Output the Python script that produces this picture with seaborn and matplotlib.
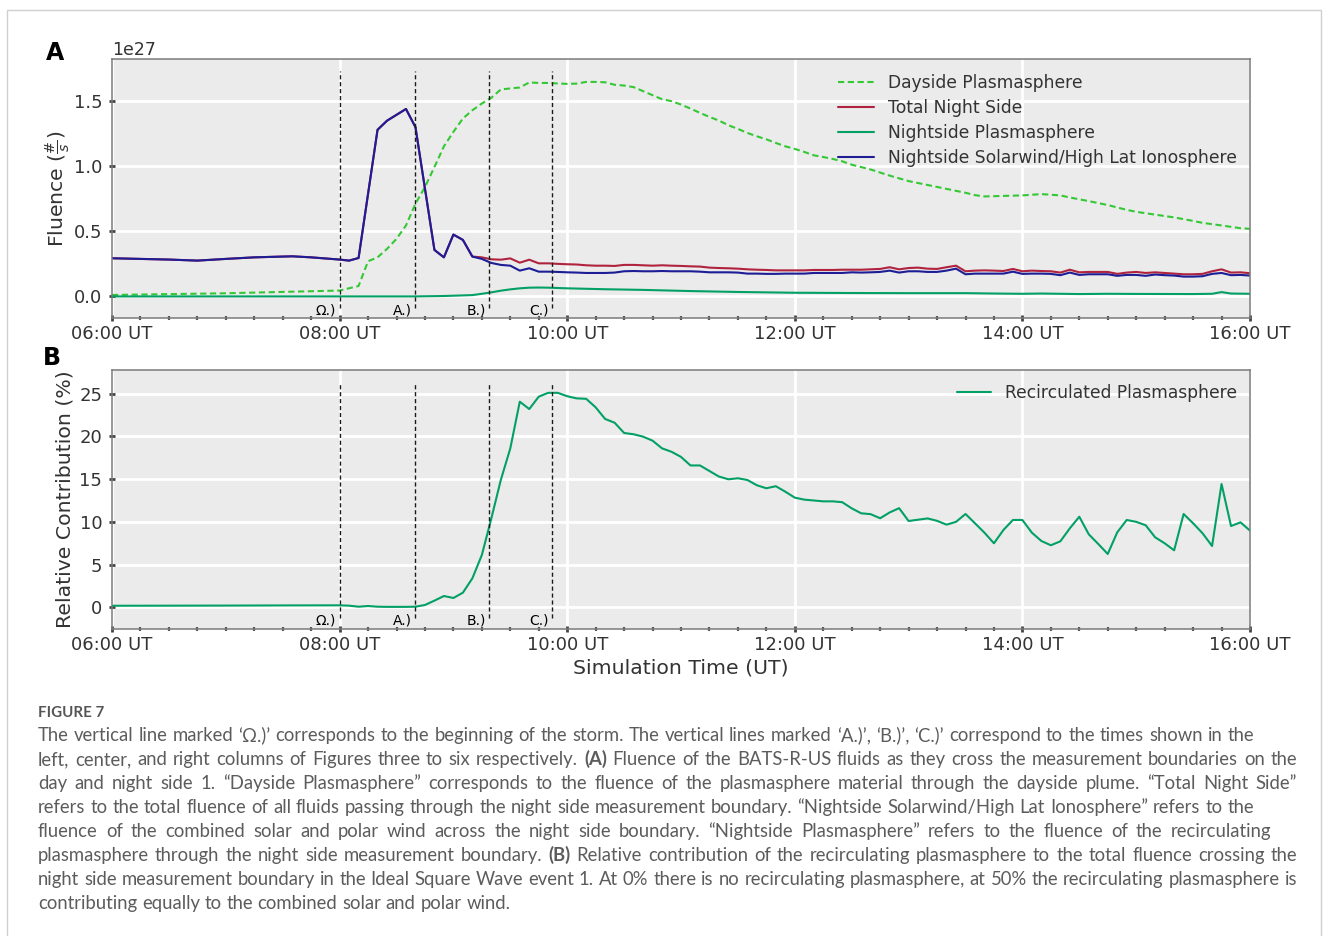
import logging
import numpy as np
import matplotlib
matplotlib.use("Agg")
import matplotlib.pyplot as plt
import matplotlib.ticker as mticker
from matplotlib.patches import Rectangle
import seaborn as sns

logging.getLogger("matplotlib.font_manager").setLevel(logging.ERROR)

# ---------------------------------------------------------------- data
SCALE = 1e27  # fluence values below are in units of 1e27 #/s

def hrs(ts):
    return np.array([int(t[:2]) + int(t[3:]) / 60.0 for t in ts])

def every5(start, end):
    h0, m0 = int(start[:2]), int(start[3:])
    h1, m1 = int(end[:2]), int(end[3:])
    return [f"{m // 60:02d}:{m % 60:02d}" for m in range(h0 * 60 + m0, h1 * 60 + m1 + 1, 5)]

# Dayside Plasmasphere
day_t = ["06:00", "07:00", "08:00", "08:10", "08:15", "08:20", "08:25", "08:30", "08:35",
         "08:40", "08:45", "08:50", "08:55", "09:00", "09:05", "09:10", "09:15", "09:20",
         "09:25", "09:30", "09:35", "09:40", "09:45", "09:50", "09:55", "10:00", "10:05",
         "10:10", "10:15", "10:20", "10:25", "10:30", "10:35", "10:40", "10:45", "10:50",
         "10:55", "11:00", "11:05", "11:10", "11:15", "11:20", "11:25", "11:30", "11:35",
         "11:40", "11:45", "11:50", "11:55", "12:00", "12:05", "12:10", "12:15", "12:20",
         "12:25", "12:30", "12:40", "12:50", "13:00", "13:10", "13:20", "13:30", "13:35",
         "13:40", "13:50", "14:00", "14:10", "14:20", "14:25", "14:35", "14:45", "14:55",
         "15:00", "15:10", "15:20", "15:30", "15:35", "15:45", "15:55", "16:00"]
day_v = [0.011, 0.024, 0.045, 0.080, 0.270, 0.300, 0.365, 0.442, 0.545,
         0.712, 0.840, 0.994, 1.153, 1.264, 1.367, 1.430, 1.482, 1.526,
         1.590, 1.598, 1.605, 1.644, 1.640, 1.640, 1.636, 1.633, 1.635,
         1.648, 1.648, 1.645, 1.626, 1.620, 1.608, 1.577, 1.546, 1.515,
         1.500, 1.474, 1.443, 1.410, 1.379, 1.351, 1.315, 1.287, 1.256,
         1.230, 1.207, 1.179, 1.153, 1.133, 1.110, 1.084, 1.071, 1.056,
         1.038, 1.012, 0.975, 0.928, 0.886, 0.856, 0.826, 0.796, 0.778,
         0.768, 0.772, 0.776, 0.786, 0.776, 0.760, 0.732, 0.702, 0.665,
         0.650, 0.628, 0.607, 0.580, 0.565, 0.545, 0.524, 0.519]

# early part shared by night-side curves (they overlap before 09:15)
early_t = ["06:00", "06:30", "06:45", "07:00", "07:15", "07:35", "07:45", "08:00", "08:05",
           "08:10", "08:20", "08:25", "08:35", "08:40", "08:50", "08:55", "09:00", "09:05",
           "09:10"]
early_v = [0.293, 0.283, 0.275, 0.288, 0.300, 0.308, 0.300, 0.283, 0.275,
           0.295, 1.280, 1.350, 1.440, 1.300, 0.357, 0.300, 0.475, 0.434,
           0.306]

# Total Night Side
tot_t = early_t + every5("09:15", "16:00")
tot_v = early_v + [
    0.300, 0.285, 0.282, 0.292, 0.259, 0.282, 0.254, 0.254, 0.250,
    0.247, 0.245, 0.239, 0.236, 0.236, 0.234, 0.242, 0.242, 0.239, 0.236, 0.239, 0.236,
    0.234, 0.231, 0.229, 0.221, 0.218, 0.216, 0.213, 0.208, 0.205, 0.203, 0.200, 0.200,
    0.200, 0.200, 0.203, 0.203, 0.203, 0.205, 0.205, 0.205, 0.208, 0.211, 0.224, 0.208,
    0.218, 0.221, 0.213, 0.211, 0.224, 0.236, 0.193, 0.198, 0.200, 0.198, 0.195, 0.211,
    0.193, 0.198, 0.195, 0.193, 0.183, 0.205, 0.185, 0.188, 0.188, 0.188, 0.173, 0.183,
    0.188, 0.180, 0.185, 0.180, 0.175, 0.170, 0.170, 0.173, 0.193, 0.208, 0.183, 0.185,
    0.178]

# Nightside Plasmasphere
nps_t = ["06:00", "08:40", "08:55", "09:10", "09:15", "09:20", "09:25", "09:30", "09:35",
         "09:40", "09:45", "09:50", "10:00", "10:20", "10:40", "11:05", "11:30", "12:00",
         "12:30", "13:00", "13:30", "13:45", "14:00", "14:10", "14:30", "14:45", "15:00",
         "15:30", "15:40", "15:45", "15:50", "16:00"]
nps_v = [0.000, 0.000, 0.003, 0.010, 0.020, 0.031, 0.044, 0.054, 0.062,
         0.067, 0.068, 0.067, 0.062, 0.055, 0.050, 0.041, 0.034, 0.028,
         0.026, 0.025, 0.025, 0.022, 0.020, 0.022, 0.018, 0.020, 0.019,
         0.018, 0.020, 0.033, 0.022, 0.020]

# Nightside Solarwind/High Lat Ionosphere
sw_t = early_t + ["09:15", "09:20", "09:25", "09:30", "09:35", "09:40", "09:45"] + every5("09:50", "16:00")
sw_v = early_v + [0.288, 0.257, 0.242, 0.236, 0.198, 0.216, 0.190] + [
    0.190, 0.188,
    0.185, 0.183, 0.180, 0.180, 0.180, 0.183, 0.193, 0.195, 0.193, 0.193, 0.195, 0.193,
    0.193, 0.193, 0.190, 0.185, 0.185, 0.185, 0.183, 0.175, 0.175, 0.173, 0.173, 0.175,
    0.175, 0.175, 0.180, 0.180, 0.180, 0.180, 0.185, 0.183, 0.185, 0.188, 0.198, 0.183,
    0.193, 0.193, 0.188, 0.188, 0.198, 0.213, 0.170, 0.175, 0.175, 0.175, 0.175, 0.190,
    0.173, 0.175, 0.175, 0.173, 0.163, 0.183, 0.165, 0.170, 0.170, 0.170, 0.158, 0.165,
    0.165, 0.158, 0.168, 0.163, 0.160, 0.152, 0.152, 0.155, 0.173, 0.180, 0.163, 0.165,
    0.160]

# Recirculated Plasmasphere (relative contribution, %)
rec_t = ["06:00", "07:00", "07:30"] + every5("08:00", "16:00")
rec_v = [0.18, 0.20, 0.22] + [
    0.23, 0.19, 0.07, 0.15, 0.07, 0.05, 0.05, 0.05, 0.07, 0.27, 0.78, 1.32,
    1.09, 1.71, 3.39, 6.12, 10.4, 14.9, 18.6, 24.06, 23.2, 24.65, 25.1, 25.1,
    24.7, 24.45, 24.4, 23.4, 22.04, 21.6, 20.4, 20.25, 19.97, 19.5, 18.6, 18.2,
    17.6, 16.6, 16.6, 15.95, 15.3, 14.98, 15.1, 14.9, 14.28, 13.93, 14.17, 13.53,
    12.83, 12.6, 12.5, 12.4, 12.4, 12.3, 11.58, 11.0, 10.9, 10.42, 11.1, 11.6,
    10.1, 10.25, 10.4, 10.12, 9.67, 10.0, 10.92, 9.83, 8.73, 7.49, 9.05, 10.22,
    10.22, 8.73, 7.76, 7.26, 7.72, 9.24, 10.6, 8.54, 7.41, 6.24, 8.77, 10.22,
    10.0, 9.6, 8.19, 7.49, 6.67, 10.92, 9.83, 8.66, 7.17, 14.43, 9.51, 9.94,
    8.97]

event_t = ["08:00", "08:40", "09:19", "09:52"]
event_labels = ["Ω.)", "A.)", "B.)", "C.)"]

caption_title = "FIGURE 7"
caption_lines = [
    "The vertical line marked ‘Ω.)’ corresponds to the beginning of the storm. The vertical lines marked ‘A.)’, ‘B.)’, ‘C.)’ correspond to the times shown in the",
    "left, center, and right columns of Figures three to six respectively. **(A)** Fluence of the BATS-R-US fluids as they cross the measurement boundaries on the",
    "day and night side 1. “Dayside Plasmasphere” corresponds to the fluence of the plasmasphere material through the dayside plume. “Total Night Side”",
    "refers to the total fluence of all fluids passing through the night side measurement boundary. “Nightside Solarwind/High Lat Ionosphere” refers to the",
    "fluence of the combined solar and polar wind across the night side boundary. “Nightside Plasmasphere” refers to the fluence of the recirculating",
    "plasmasphere through the night side measurement boundary. **(B)** Relative contribution of the recirculating plasmasphere to the total fluence crossing the",
    "night side measurement boundary in the Ideal Square Wave event 1. At 0% there is no recirculating plasmasphere, at 50% the recirculating plasmasphere is",
    "contributing equally to the combined solar and polar wind.",
]
caption_right = [1254, 1297, 1297, 1254, 1271, 1297, 1297, None]

# ---------------------------------------------------------------- style
TXT = "#333333"
sns.set_theme(style="darkgrid", rc={
    "axes.facecolor": "#EBEBEB",
    "axes.edgecolor": "#7a7a7a",
    "axes.linewidth": 1.1,
    "grid.color": "white",
    "grid.linewidth": 2.0,
    "xtick.bottom": True,
    "ytick.left": True,
    "xtick.color": TXT,
    "ytick.color": TXT,
    "axes.labelcolor": TXT,
    "text.color": TXT,
})
plt.rcParams["font.family"] = ["DejaVu Sans"]

W, H = 1330, 936
fig = plt.figure(figsize=(W / 100, H / 100), dpi=100)
fig.patch.set_facecolor("white")

def px_axes(left, top, right, bottom):
    return fig.add_axes([left / W, 1 - bottom / H, (right - left) / W, (bottom - top) / H])

axA = px_axes(112, 59, 1250, 318)
axB = px_axes(112, 370, 1250, 629)

C_DAY = "#35C835"
C_TOT = "#B0233F"
C_NPS = "#03A066"
C_SW = "#1D1D96"

sns.lineplot(x=hrs(day_t), y=np.array(day_v) * SCALE, ax=axA, color=C_DAY, lw=1.5,
             label="Dayside Plasmasphere", estimator=None, sort=False)
axA.lines[-1].set_dashes((3, 1.7))
sns.lineplot(x=hrs(tot_t), y=np.array(tot_v) * SCALE, ax=axA, color=C_TOT, lw=1.5,
             label="Total Night Side", estimator=None, sort=False)
sns.lineplot(x=hrs(nps_t), y=np.array(nps_v) * SCALE, ax=axA, color=C_NPS, lw=1.5,
             label="Nightside Plasmasphere", estimator=None, sort=False)
sns.lineplot(x=hrs(sw_t), y=np.array(sw_v) * SCALE, ax=axA, color=C_SW, lw=1.5,
             label="Nightside Solarwind/High Lat Ionosphere", estimator=None, sort=False)

sns.lineplot(x=hrs(rec_t), y=np.array(rec_v), ax=axB, color=C_NPS, lw=1.5,
             label="Recirculated Plasmasphere", estimator=None, sort=False)

ev = hrs(event_t)
for ax, (ylo, yhi), lab_y, lim in [
        (axA, (-0.087 * SCALE, 1.73 * SCALE), -0.11 * SCALE, (-0.166 * SCALE, 1.824 * SCALE)),
        (axB, (-1.29, 26.3), -1.5, (-2.54, 27.77))]:
    ax.vlines(ev, ylo, yhi, colors="#1a1a1a", linestyles=(0, (3, 2)), lw=1.0, zorder=5)
    for t, s in zip(ev, event_labels):
        ax.text(t - 0.03, lab_y, s, ha="right", va="center", fontsize=10, color="black", zorder=6)
    ax.set_xlim(6, 16)
    ax.set_ylim(*lim)
    ax.xaxis.set_major_locator(mticker.MultipleLocator(2))
    ax.xaxis.set_minor_locator(mticker.MultipleLocator(0.25))
    ax.xaxis.set_major_formatter(mticker.FuncFormatter(lambda v, p: f"{int(round(v)):02d}:00 UT"))
    ax.grid(True, which="major", color="white", lw=2.0)
    ax.grid(False, which="minor")
    ax.tick_params(axis="both", which="major", direction="inout", length=4, width=2,
                   color="#444444", labelsize=13)
    ax.tick_params(axis="x", which="major", pad=3)
    ax.tick_params(axis="y", which="major", pad=5)
    ax.tick_params(axis="x", which="minor", direction="inout", length=3, width=1.6,
                   color="#555555", bottom=True)
    for sp in ax.spines.values():
        sp.set_visible(True)
        sp.set_color("#7a7a7a")
        sp.set_linewidth(1.1)
    ax.set_xlabel("")

axA.yaxis.set_major_locator(mticker.MultipleLocator(0.5 * SCALE))
axA.yaxis.get_offset_text().set_fontsize(12.5)
axA.yaxis.get_offset_text().set_color(TXT)
axA.set_ylabel(r"Fluence ($\frac{\#}{s}$)", fontsize=14.7, labelpad=1.5)
axB.yaxis.set_major_locator(mticker.MultipleLocator(5))
axB.set_ylabel("Relative Contribution (%)", fontsize=14.7, labelpad=3.5)
axB.set_xlabel("Simulation Time (UT)", fontsize=14.7, labelpad=3)

axA.legend(loc="upper left", bbox_to_anchor=(0.638, 0.942), frameon=False, fontsize=12.3,
           handlelength=2.1, handletextpad=0.8, labelspacing=0.41, borderaxespad=0, borderpad=0)
axB.legend(loc="upper left", bbox_to_anchor=(0.7425, 0.946), frameon=False, fontsize=12.3,
           handlelength=2.0, handletextpad=0.8, borderaxespad=0, borderpad=0)

fig.text(55 / W, 1 - 53 / H, "A", fontsize=17, fontweight="bold", color="black", ha="center", va="center")
fig.text(52 / W, 1 - 358 / H, "B", fontsize=17, fontweight="bold", color="black", ha="center", va="center")

# ---------------------------------------------------------------- border + caption
fig.patches.append(Rectangle((7 / W, 1 - 945 / H), 1314 / W, 935 / H, transform=fig.transFigure,
                             fill=False, edgecolor="#cfcfcf", lw=1.0))

CAP_FONT = ["Lato", "Open Sans", "DejaVu Sans"]
CAP_COL = "#5c5c5c"
renderer = fig.canvas.get_renderer()

def width_of(s, size, weight="normal"):
    t = fig.text(0, 0, s, fontsize=size, fontweight=weight, family=CAP_FONT)
    w = t.get_window_extent(renderer).width
    t.remove()
    return w

def split_words(line):
    return [(w.replace("**", ""), "bold" if w.startswith("**") else "normal") for w in line.split(" ")]

# caption size: justified lines should need only a little extra word spacing
ref = 11.0
ref_space = width_of("a a", ref) - width_of("aa", ref)
ratios = []
for line, right in zip(caption_lines, caption_right):
    if right is None:
        continue
    items = split_words(line)
    nat = sum(width_of(s, ref, wt) for s, wt in items) + ref_space * (len(items) - 1)
    ratios.append((right - 38) / nat)
cap_size = ref * float(np.median(ratios)) * 0.985
title_size = ref * (104 - 38) / width_of(caption_title, ref, "bold")

fig.text(38 / W, 1 - 717 / H, caption_title, fontsize=title_size, fontweight="bold",
         family=CAP_FONT, color="#555555", ha="left", va="baseline")

space_w = ref_space * cap_size / ref
for i, (line, right) in enumerate(zip(caption_lines, caption_right)):
    y = 1 - (741 + 24 * i) / H
    items = split_words(line)
    size = cap_size
    widths = [width_of(s, size, wt) for s, wt in items]
    if right is not None:
        gap = (right - 38 - sum(widths)) / (len(items) - 1)
        if gap < 0.7 * space_w:
            factor = (right - 38 - 0.7 * space_w * (len(items) - 1)) / sum(widths)
            size = size * factor
            widths = [w * factor for w in widths]
            gap = 0.7 * space_w
    else:
        gap = space_w
    x = 38.0
    for (s, wt), w in zip(items, widths):
        fig.text(x / W, y, s, fontsize=size, fontweight=wt, family=CAP_FONT, color=CAP_COL,
                 ha="left", va="baseline")
        x += w + gap

fig.savefig("out.png", dpi=100, facecolor="white")
